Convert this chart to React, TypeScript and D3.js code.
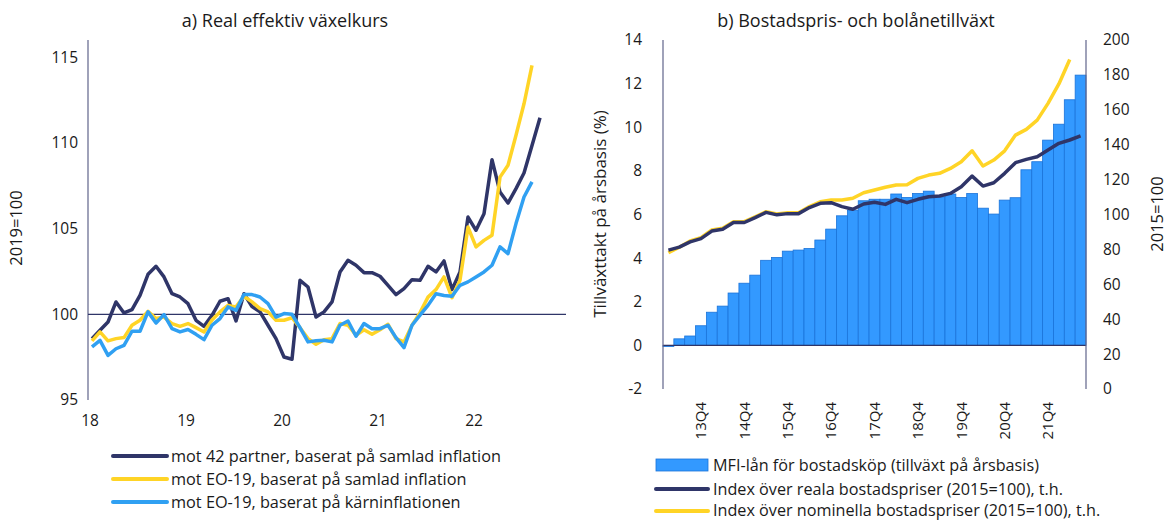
import React from "react";
import * as d3 from "d3";

// left panel: monthly from Jan 2018
const navy42 = [
  98.58, 99.07, 99.55, 100.72, 100.08, 100.27, 101.1, 102.33, 102.8, 102.18, 101.2, 101.01,
  100.62, 99.65, 99.3, 99.94, 100.76, 100.91, 99.61, 101.2, 100.45, 100.14, 99.36, 98.58,
  97.51, 97.38, 101.98, 101.59, 99.84, 100.14, 100.72, 102.47, 103.15, 102.86, 102.43, 102.43,
  102.22, 101.69, 101.15, 101.5, 102.02, 101.98, 102.8, 102.47, 103.11, 101.44, 102.47, 105.67,
  104.9, 105.87, 109.02, 107.13, 106.49, 107.33, 108.24, 109.85, 111.47,
];
const eoTotal = [
  98.45, 98.97, 98.45, 98.58, 98.64, 99.36, 99.65, 100.17, 99.75, 99.84, 99.46, 99.3,
  99.46, 99.22, 98.97, 99.67, 100.14, 100.52, 100.43, 101.05, 100.72, 100.33, 100.14, 99.65,
  99.65, 99.8, 99.22, 98.58, 98.25, 98.52, 98.58, 99.46, 99.36, 98.78, 99.1, 98.83,
  99.1, 99.42, 98.58, 98.39, 99.36, 100.1, 101.0, 101.44, 102.18, 100.97, 101.98, 105.09,
  103.93, 104.31, 104.61, 108.0, 108.69, 110.44, 112.28, 114.52,
];
const eoCore = [
  98.1, 98.48, 97.6, 97.99, 98.19, 99.01, 99.01, 100.14, 99.49, 99.98, 99.16, 98.97,
  99.11, 98.83, 98.52, 99.36, 99.75, 100.43, 100.23, 101.15, 101.15, 101.01, 100.62, 99.84,
  100.04, 100.0, 99.22, 98.39, 98.45, 98.48, 98.39, 99.36, 99.61, 98.72, 99.46, 99.16,
  99.16, 99.36, 98.64, 98.06, 99.36, 99.95, 100.52, 101.2, 101.1, 101.05, 101.69, 101.89,
  102.18, 102.47, 102.86, 103.93, 103.54, 105.29, 106.84, 107.72,
];
const yearLabels = ["18", "19", "20", "21", "22"];
const leftTicks = [95, 100, 105, 110, 115];

// right panel: quarterly 13Q1 - 22Q3
const quarters = [
  "13Q1", "13Q2", "13Q3", "13Q4", "14Q1", "14Q2", "14Q3", "14Q4", "15Q1", "15Q2",
  "15Q3", "15Q4", "16Q1", "16Q2", "16Q3", "16Q4", "17Q1", "17Q2", "17Q3", "17Q4",
  "18Q1", "18Q2", "18Q3", "18Q4", "19Q1", "19Q2", "19Q3", "19Q4", "20Q1", "20Q2",
  "20Q3", "20Q4", "21Q1", "21Q2", "21Q3", "21Q4", "22Q1", "22Q2", "22Q3",
];
const mfiLoans = [
  -0.05, 0.3, 0.43, 0.9, 1.52, 1.8, 2.4, 2.85, 3.22, 3.9,
  4.03, 4.32, 4.37, 4.44, 4.83, 5.33, 5.94, 6.2, 6.63, 6.7,
  6.7, 6.94, 6.78, 6.96, 7.07, 6.81, 6.94, 6.78, 6.96, 6.29,
  6.02, 6.66, 6.77, 8.05, 8.42, 9.41, 10.14, 11.26, 12.39,
];
const realPrices = [
  79.6, 81.3, 84.3, 86.2, 90.5, 91.5, 95.4, 95.4, 98.2, 101.2,
  99.8, 100.5, 100.5, 104.0, 106.4, 106.8, 104.5, 103.0, 106.0, 107.0,
  105.8, 108.7, 106.8, 108.7, 110.2, 110.6, 112.1, 115.9, 122.0, 116.3,
  118.2, 123.6, 129.7, 131.6, 133.1, 136.9, 140.8, 142.7, 145.0,
];
const nominalPrices = [
  78.1, 81.2, 84.8, 86.7, 91.1, 92.1, 95.9, 95.9, 98.7, 101.6,
  100.3, 101.0, 101.0, 104.5, 107.3, 108.3, 108.3, 109.3, 112.5, 114.0,
  115.6, 116.9, 117.1, 120.7, 122.6, 123.6, 126.4, 130.2, 136.5, 127.8,
  131.2, 136.5, 145.5, 148.8, 154.1, 163.7, 174.8, 188.8,
];
const pctTicks = [-2, 0, 2, 4, 6, 8, 10, 12, 14];
const idxTicks = [0, 20, 40, 60, 80, 100, 120, 140, 160, 180, 200];

const NAVY = "#2f3568";
const YELLOW = "#ffd426";
const LBLUE = "#30a0f2";
const BAR = "#3399ff";
const BAR_EDGE = "#1a73d9";
const AXIS = "#60648a";
const FONT = "'Open Sans', sans-serif";
const INK = "#1a1a1a";

export default function App() {
  // left
  const xL = d3.scaleLinear().domain([0, 60]).range([88, 568]);
  const yL = d3.scaleLinear().domain([95, 116]).range([400, 40]);
  const lineL = d3
    .line<number>()
    .x((_, i) => xL(i + 0.5))
    .y((d) => yL(d));

  // right
  const xR = d3.scaleBand<string>().domain(quarters).range([663, 1086]).padding(0);
  const yPct = d3.scaleLinear().domain([-2, 14]).range([389, 40]);
  const yIdx = d3.scaleLinear().domain([0, 200]).range([389, 40]);
  const lineR = d3
    .line<number>()
    .x((_, i) => (xR(quarters[i]) ?? 0) + xR.bandwidth() / 2)
    .y((d) => yIdx(d));

  const leftSeries = [
    { name: "mot 42 partner, baserat på samlad inflation", data: navy42, color: NAVY },
    { name: "mot EO-19, baserat på samlad inflation", data: eoTotal, color: YELLOW },
    { name: "mot EO-19, baserat på kärninflationen", data: eoCore, color: LBLUE },
  ];

  return (
    <svg width={1171} height={520} style={{ display: "block", position: "absolute", left: 0, top: 0 }} fontFamily={FONT}>
      <rect width={1171} height={520} fill="#fff" />

      {/* ---- panel a ---- */}
      <text x={285} y={27} textAnchor="middle" fontSize={18} fill={INK}>
        a) Real effektiv växelkurs
      </text>
      <line x1={xL(0)} x2={xL(0)} y1={40} y2={400} stroke={AXIS} strokeWidth={1.2} />
      <line x1={xL(0)} x2={566} y1={yL(100)} y2={yL(100)} stroke={NAVY} strokeWidth={1.2} />
      {leftTicks.map((t) => (
        <text key={t} x={78} y={yL(t)} dy="0.35em" textAnchor="end" fontSize={15.5} fill={INK}>
          {t}
        </text>
      ))}
      {yearLabels.map((l, i) => (
        <text key={l} x={xL(i * 12) + 2} y={426} textAnchor="middle" fontSize={15.5} fill={INK}>
          {l}
        </text>
      ))}
      <text transform={`translate(22,228) rotate(-90)`} textAnchor="middle" fontSize={16.5} fill={INK}>
        2019=100
      </text>
      {leftSeries.map((s) => (
        <path key={s.name} d={lineL(s.data) ?? ""} fill="none" stroke={s.color} strokeWidth={3.5} strokeLinejoin="round" />
      ))}
      {leftSeries.map((s, i) => (
        <g key={s.name} transform={`translate(0,${456 + i * 23})`}>
          <line x1={113} x2={167} stroke={s.color} strokeWidth={4} strokeLinecap="round" />
          <text x={171} y={0} dy="0.35em" fontSize={16.3} fill={INK}>
            {s.name}
          </text>
        </g>
      ))}

      {/* ---- panel b ---- */}
      <text x={856} y={27} textAnchor="middle" fontSize={18} fill={INK}>
        b) Bostadspris- och bolånetillväxt
      </text>
      {mfiLoans.map((v, i) => (
        <rect
          key={quarters[i]}
          x={xR(quarters[i])}
          y={Math.min(yPct(v), yPct(0))}
          width={xR.bandwidth()}
          height={Math.abs(yPct(v) - yPct(0))}
          fill={BAR}
          stroke={BAR_EDGE}
          strokeWidth={0.8}
        />
      ))}
      <line x1={663} x2={1086} y1={yPct(0)} y2={yPct(0)} stroke={NAVY} strokeWidth={1.2} />
      <line x1={663} x2={663} y1={40} y2={389} stroke={AXIS} strokeWidth={1.2} />
      <line x1={1086} x2={1086} y1={40} y2={389} stroke={AXIS} strokeWidth={1.2} />
      <path d={lineR(nominalPrices) ?? ""} fill="none" stroke={YELLOW} strokeWidth={3.5} strokeLinejoin="round" />
      <path d={lineR(realPrices) ?? ""} fill="none" stroke={NAVY} strokeWidth={3.5} strokeLinejoin="round" />
      {pctTicks.map((t) => (
        <text key={t} x={642} y={yPct(t)} dy="0.35em" textAnchor="end" fontSize={15.5} fill={INK}>
          {t}
        </text>
      ))}
      {idxTicks.map((t) => (
        <text key={t} x={1103} y={yIdx(t)} dy="0.35em" textAnchor="start" fontSize={15.5} fill={INK}>
          {t}
        </text>
      ))}
      {quarters
        .filter((q) => q.endsWith("Q4"))
        .map((q) => (
          <text
            key={q}
            transform={`translate(${(xR(q) ?? 0) + xR.bandwidth() / 2},402) rotate(-90)`}
            dy="0.35em"
            textAnchor="end"
            fontSize={15}
            fill={INK}
          >
            {q}
          </text>
        ))}
      <text transform={`translate(606,214) rotate(-90)`} textAnchor="middle" fontSize={17} fill={INK}>
        Tillväxttakt på årsbasis (%)
      </text>
      <text transform={`translate(1163,214) rotate(-90)`} textAnchor="middle" fontSize={16.5} fill={INK}>
        2015=100
      </text>

      <rect x={656} y={459} width={52} height={12} fill={BAR} stroke={BAR_EDGE} strokeWidth={0.8} />
      <text x={713} y={465} dy="0.35em" fontSize={16.2} fill={INK}>
        MFI-lån för bostadsköp (tillväxt på årsbasis)
      </text>
      <line x1={656} x2={708} y1={489} y2={489} stroke={NAVY} strokeWidth={4} strokeLinecap="round" />
      <text x={713} y={489} dy="0.35em" fontSize={16.2} fill={INK}>
        Index över reala bostadspriser (2015=100), t.h.
      </text>
      <line x1={656} x2={708} y1={511} y2={511} stroke={YELLOW} strokeWidth={4} strokeLinecap="round" />
      <text x={713} y={510} dy="0.35em" fontSize={16.2} fill={INK}>
        Index över nominella bostadspriser (2015=100), t.h.
      </text>
    </svg>
  );
}
